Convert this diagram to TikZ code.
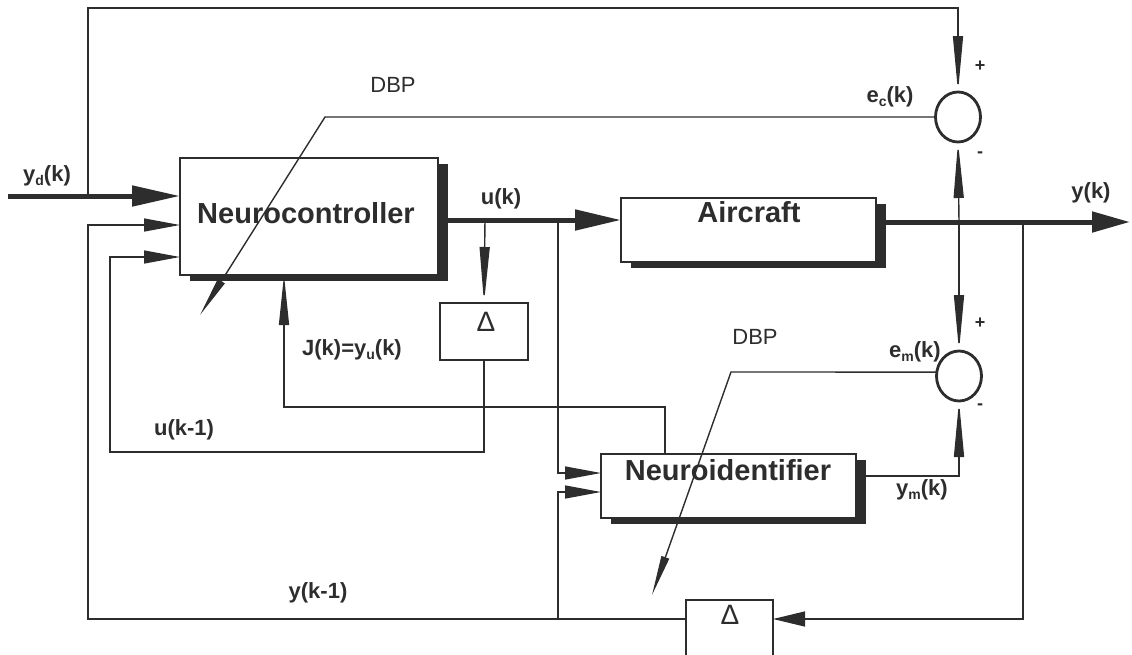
\documentclass[tikz,border=0pt]{standalone}
\usepackage{fontspec}
\setmainfont{Liberation Sans}
\usetikzlibrary{arrows.meta,shapes.geometric,shadows,calc}
\definecolor{ink}{RGB}{45,45,45}
\newcommand{\lsub}[1]{\raisebox{-0.35ex}{\fontsize{14}{14}\selectfont #1}}
\begin{document}
\begin{tikzpicture}[x=1pt,y=-1pt,
  every node/.style={inner sep=0pt,outer sep=0pt,text=ink},
  line/.style={draw=ink,line width=1.4pt},
  heavy/.style={draw=ink,line width=5pt},
  blk/.style={draw=ink,line width=1.5pt,fill=white,anchor=north west,
    drop shadow={shadow xshift=10pt,shadow yshift=-6pt,fill=ink,opacity=1}},
  dbox/.style={draw=ink,line width=1.5pt,fill=white,anchor=north west},
  sumj/.style={ellipse,draw=ink,line width=2.8pt,minimum width=45pt,minimum height=50pt},
  bigtxt/.style={font=\fontsize{29}{34}\selectfont\bfseries},
  lbl/.style={font=\fontsize{22}{26}\selectfont\bfseries},
  dbptxt/.style={font=\fontsize{22}{26}\selectfont},
  deltxt/.style={font=\fontsize{28}{30}\selectfont},
  sgn/.style={font=\fontsize{18}{20}\selectfont\bfseries},
  bigarr/.style={-{Triangle[length=48pt,width=20pt]}},
  uarr/.style={-{Triangle[length=46pt,width=20pt]}},
  yarr/.style={-{Triangle[length=38pt,width=20pt]}},
  inarr/.style={-{Triangle[length=36pt,width=13pt]}},
  varr/.style={-{Triangle[length=56pt,width=10pt]}},
  jarr/.style={-{Triangle[length=50pt,width=10pt]}},
  dtwoarr/.style={-{Triangle[length=32pt,width=15pt]}},
  dbparr/.style={-{Triangle[length=40pt,width=8pt]}}
]
\useasboundingbox (0,0) rectangle (1132,654);
\begin{scope}
\clip (0,0) rectangle (1132,654);
% blocks
\node[blk,minimum width=258pt,minimum height=117pt] (nc) at (180,158) {};
\node[blk,minimum width=255pt,minimum height=64pt] (ac) at (621,198) {};
\node[blk,minimum width=255pt,minimum height=64pt] (ni) at (601,454) {};
\node[dbox,minimum width=88pt,minimum height=57pt] (d1) at (440,303) {};
\node[dbox,minimum width=87pt,minimum height=80pt] (d2) at (686,600) {};
\node[sumj] (ec) at (958,117) {};
\node[sumj] (em) at (959,376) {};
% texts in blocks
\node[bigtxt] (tnc) at (306,213) {Neurocontroller};
\node[bigtxt] (tac) at (749,212) {Aircraft};
\node[bigtxt] (tni) at (728,470) {Neuroidentifier};
\node[deltxt] (td1) at (486,322) {Δ};
\node[deltxt] (td2) at (730,615) {Δ};
% coordinates
\coordinate (ydin) at (8,196);
\coordinate (tap1) at (88,196);
\coordinate (topc) at (88,8);
\coordinate (tapu) at (485,220);
\coordinate (tapn) at (558,220);
\coordinate (tapy) at (558,619);
\coordinate (tape) at (959,222);
\coordinate (tapd) at (1023,222);
\coordinate (yout) at (1130,222);
\coordinate (jn) at (665,454);
\coordinate (jc) at (284,275);
\coordinate (c1) at (110,452);
\coordinate (k1) at (325,117);
\coordinate (t1) at (200,315);
\coordinate (k2) at (731,372);
\coordinate (t2) at (652,595);
% connectors
\draw[heavy,bigarr] (ydin) -- (ydin -| nc.west);
\draw[line,varr] (tap1) -- (topc) -| (ec.north);
\draw[heavy,uarr] (nc.east |- tapu) -- (ac.west |- tapu);
\draw[line,varr] (tapu) -- (d1.north);
\draw[line,inarr] (d1.south) |- (c1) |- (nc.west |- 0,257);
\draw[line,jarr] (jn) |- ($(jc)+(0,132)$) -- (jc);
\draw[line,inarr] (d2.north west |- tapy) -| (88,225) -- (nc.west |- 0,225);
\draw[line,inarr] (tapy) |- (ni.west |- 0,492);
\draw[line,inarr] (tapn) |- (ni.west |- 0,473);
\draw[heavy,yarr] (ac.east |- yout) -- (yout);
\draw[line,varr] (tape) -- (ec.south);
\draw[line,varr] (tape) -- (em.north);
\draw[line,dtwoarr] (tapd) |- (d2.north east |- tapy);
\draw[line,varr] (ni.east |- 0,476) -| (em.south);
\draw[line,dbparr] (ec.west) -- (k1) -- (t1);
\draw[line,dbparr] (em.170) -- (k2) -- (t2);
\end{scope}
% labels
\node[lbl] (lyd) at (47,176) {y\lsub{d}(k)};
\node[dbptxt] (ldbp1) at (393,85) {DBP};
\node[lbl] (lec) at (890,97) {e\lsub{c}(k)};
\node[lbl] (lu) at (501,199) {u(k)};
\node[lbl] (ly) at (1091,193) {y(k)};
\node[lbl] (lj) at (352,350) {J(k)=y\lsub{u}(k)};
\node[lbl] (lu1) at (184,430) {u(k-1)};
\node[lbl] (ly1) at (318,593) {y(k-1)};
\node[lbl] (lem) at (915,352) {e\lsub{m}(k)};
\node[lbl] (lym) at (922,490) {y\lsub{m}(k)};
\node[dbptxt] (ldbp2) at (755,337) {DBP};
\node[sgn] (sp1) at (980,66) {+};
\node[sgn] (sm1) at (980,155) {-};
\node[sgn] (sp2) at (980,323) {+};
\node[sgn] (sm2) at (980,407) {-};
\end{tikzpicture}
\end{document}
